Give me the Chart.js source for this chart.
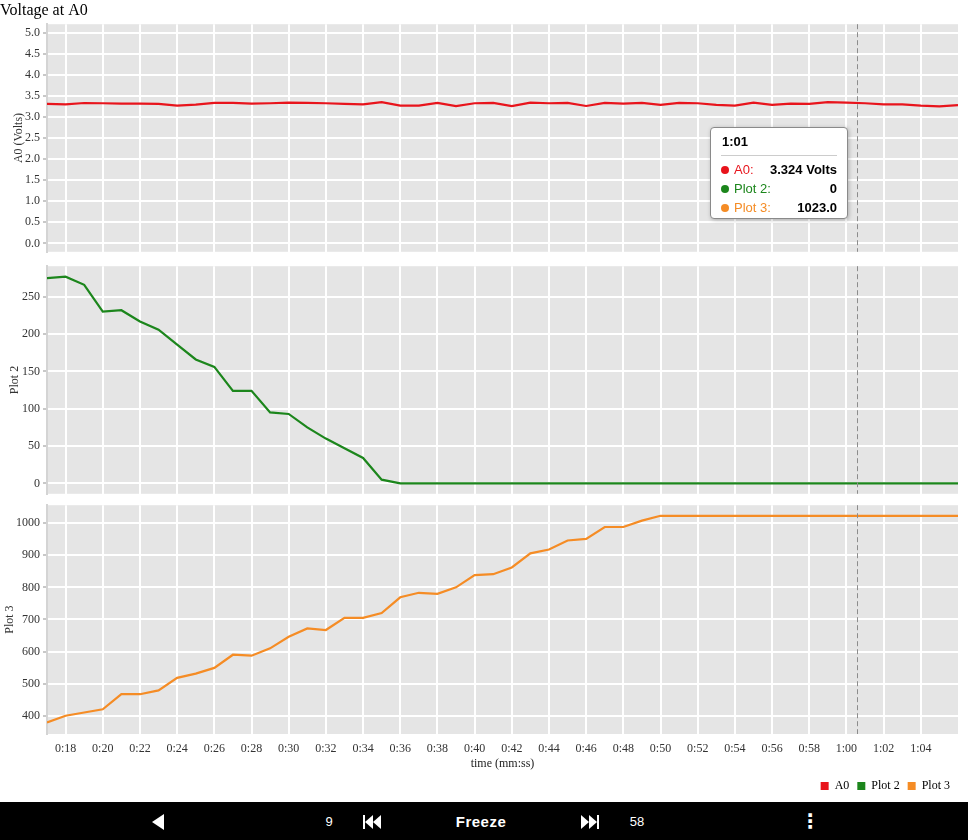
<!DOCTYPE html>
<html>
<head>
<meta charset="utf-8">
<script src="https://cdn.jsdelivr.net/npm/chart.js@4.4.1/dist/chart.umd.min.js"></script>
<style>
  body { margin: 0; width: 968px; height: 840px; position: relative; overflow: hidden; background: #fff; }
  canvas { position: absolute; left: 0; }
  #c1 { top: 0; } #c2 { top: 256px; } #c3 { top: 495px; }
  #tip { position: absolute; left: 710px; top: 127px; width: 138px; height: 92px; box-sizing: border-box;
         background: #fff; border: 1px solid #8a8a8a; border-radius: 4px; box-shadow: 1px 1px 4px rgba(0,0,0,.25);
         font-family: "Liberation Sans", Arial, sans-serif; font-size: 13px; padding: 6px 10px 0 10px; }
  #tip .tt { font-weight: bold; padding: 0 0 6px 1px; border-bottom: 1px solid #ccc; margin-bottom: 4px; }
  #tip .row { display: flex; align-items: center; height: 19px; }
  #tip .dot { width: 8px; height: 8px; border-radius: 50%; margin-right: 5px; }
  #tip .lab { flex: 1; }
  #tip b { color: #000; }
  #bar { position: absolute; left: 0; top: 802px; width: 968px; height: 38px; background: #000; color: #fff;
         font-family: "Liberation Sans", Arial, sans-serif; }
  #bar .it { position: absolute; top: 19px; transform: translate(-50%, -50%); white-space: nowrap; }
  .tri { display: inline-block; width: 0; height: 0; border-top: 7px solid transparent; border-bottom: 7px solid transparent; vertical-align: middle; }
  .tl { border-right: 8px solid #fff; } .tr { border-left: 8px solid #fff; }
  .vb { display: inline-block; width: 2px; height: 14px; background: #fff; vertical-align: middle; }
</style>
</head>
<body>
<canvas id="c1" width="968" height="262"></canvas>
<canvas id="c2" width="968" height="248"></canvas>
<canvas id="c3" width="968" height="307"></canvas>
<div id="tip"></div>
<div id="bar">
  <span class="it" style="left:158px"><i class="tri tl" style="border-top-width:8px;border-bottom-width:8px;border-right-width:12px"></i></span>
  <span class="it" style="left:329px;font-size:13px">9</span>
  <span class="it" style="left:372px"><i class="vb"></i><i class="tri tl"></i><i class="tri tl"></i></span>
  <span class="it" style="left:481px;font-size:15px;font-weight:bold;letter-spacing:.5px">Freeze</span>
  <span class="it" style="left:590px"><i class="tri tr"></i><i class="tri tr"></i><i class="vb"></i></span>
  <span class="it" style="left:637px;font-size:13px">58</span>
  <span class="it" style="left:810px;font-size:20px;font-weight:bold;font-family:'DejaVu Sans'">⋮</span>
</div>
<script>
// dados (tempo em segundos)
const tempos = [17,18,19,20,21,22,23,24,25,26,27,28,29,30,31,32,33,34,35,36,37,38,39,40,41,
                42,43,44,45,46,47,48,49,50,51,52,53,54,55,56,57,58,59,60,61,62,63,64,65,66];
const a0 = [3.310,3.300,3.330,3.325,3.317,3.317,3.310,3.270,3.293,3.333,3.333,3.317,3.325,3.340,3.333,
            3.325,3.310,3.300,3.350,3.270,3.270,3.333,3.255,3.325,3.333,3.255,3.340,3.325,3.333,3.260,
            3.333,3.317,3.333,3.285,3.333,3.325,3.285,3.270,3.340,3.285,3.317,3.310,3.350,3.340,3.324,
            3.300,3.300,3.270,3.250,3.280];
const plot2 = [275,277,266,230,232,217,206,186,166,156,124,124,95,93,75,60,47,34,5,0,
               0,0,0,0,0,0,0,0,0,0,0,0,0,0,0,0,0,0,0,0,0,0,0,0,0,0,0,0,0,0];
const plot3 = [379,400,410,420,467,467,479,518,531,549,590,587,610,646,672,667,705,705,720,769,
               783,780,800,838,841,862,906,918,946,951,988,988,1008,1023,1023,1023,1023,1023,1023,1023,
               1023,1023,1023,1023,1023,1023,1023,1023,1023,1023];
const nomes = ['A0', 'Plot 2', 'Plot 3'];
const titulosY = ['A0 (Volts)', 'Plot 2', 'Plot 3'];
const cores = ['#e8141c', '#1c861c', '#f58c25'];
const cursorT = 60.55;   // posição do mouse (linha tracejada)
const dicaT = 61;        // ponto mostrado na dica

const serif = '"Liberation Serif", "Times New Roman", serif';
const mmss = v => Math.floor(v / 60) + ':' + String(Math.round(v % 60)).padStart(2, '0');

// fundo cinza + linha do cursor
const fundo = {
  id: 'fundo',
  beforeDraw(c) {
    const a = c.chartArea, ctx = c.ctx;
    ctx.save(); ctx.fillStyle = '#e5e5e5';
    ctx.fillRect(a.left, a.top, a.right - a.left, a.bottom - a.top);
    ctx.restore();
  },
  afterDatasetsDraw(c) {
    const a = c.chartArea, ctx = c.ctx, x = c.scales.x.getPixelForValue(cursorT);
    ctx.save(); ctx.strokeStyle = '#8c8c8c'; ctx.lineWidth = 1; ctx.setLineDash([5, 3]);
    ctx.beginPath(); ctx.moveTo(Math.round(x) + .5, a.top); ctx.lineTo(Math.round(x) + .5, a.bottom); ctx.stroke();
    ctx.restore();
  }
};

function painel(id, i, dados, yOpts, ultimo) {
  const xAxis = {
    type: 'linear', min: tempos[0], max: tempos[tempos.length - 1],
    afterBuildTicks: s => { s.ticks = s.ticks.filter(t => t.value < s.max); },
    afterFit: s => { s.height = ultimo ? 38 : 6; },
    ticks: { display: ultimo, stepSize: 2, includeBounds: false, autoSkip: false, maxRotation: 0, padding: 8,
             font: { family: serif, size: 12 }, color: '#333', callback: v => mmss(v) },
    grid: { color: '#fff', lineWidth: 2, drawTicks: false },
    border: { display: false },
    title: { display: ultimo, text: 'time (mm:ss)', font: { family: serif, size: 12 }, color: '#222', padding: { top: 0, bottom: 1 } }
  };
  return new Chart(document.getElementById(id), {
    type: 'line',
    data: { datasets: [{ label: nomes[i], data: tempos.map((t, k) => ({ x: t, y: dados[k] })),
      borderColor: cores[i], backgroundColor: cores[i], borderWidth: 2.2, pointRadius: 0, tension: 0, fill: false }] },
    options: {
      responsive: false, animation: false, events: [],
      layout: { padding: { left: 0, right: 10, top: i === 0 ? 1 : 3, bottom: 0 } },
      scales: {
        x: xAxis,
        y: {
          min: yOpts.min, max: yOpts.max,
          afterFit: s => { s.width = 47; },
          ticks: { stepSize: yOpts.step, includeBounds: false, padding: 3, font: { family: serif, size: 12 }, color: '#333',
                   callback: v => yOpts.dec ? v.toFixed(yOpts.dec) : v },
          grid: { color: '#fff', lineWidth: 2, tickColor: '#c8c8c8', tickLength: 4 },
          border: { display: true, color: '#d4d4d4', width: 2 },
          title: { display: true, text: titulosY[i], font: { family: serif, size: 12 }, color: '#333', padding: { top: yOpts.tp, bottom: 0 } }
        }
      },
      plugins: {
        tooltip: { enabled: false },
        title: { display: i === 0, text: 'Voltage at A0', align: 'start', color: '#000',
                 font: { family: serif, size: 16, weight: 'normal' }, padding: { top: 0, bottom: 4 } },
        legend: {
          display: ultimo, position: 'bottom', align: 'end',
          labels: { boxWidth: 8, boxHeight: 8, padding: 8, color: '#000', font: { family: serif, size: 12 },
            generateLabels: () => nomes.map((n, k) => ({ text: n, fillStyle: cores[k], strokeStyle: cores[k], lineWidth: 0, hidden: false, datasetIndex: 0 })) }
        }
      }
    },
    plugins: [fundo]
  });
}

painel('c1', 0, a0, { min: -0.2, max: 5.2, step: 0.5, dec: 1, tp: 12 }, false);
painel('c2', 1, plot2, { min: -14, max: 291, step: 50, dec: 0, tp: 8 }, false);
painel('c3', 2, plot3, { min: 343, max: 1056, step: 100, dec: 0, tp: 3 }, true);

// dica (tooltip) do ponto em 1:01
const k = tempos.indexOf(dicaT);
const valores = [a0[k].toFixed(3) + ' Volts', String(plot2[k]), plot3[k].toFixed(1)];
document.getElementById('tip').innerHTML = '<div class="tt">' + mmss(dicaT) + '</div>' +
  nomes.map((n, i) => `<div class="row"><span class="dot" style="background:${cores[i]}"></span>
    <span class="lab" style="color:${cores[i]}">${n}:</span><b>${valores[i]}</b></div>`).join('');
</script>
</body>
</html>
